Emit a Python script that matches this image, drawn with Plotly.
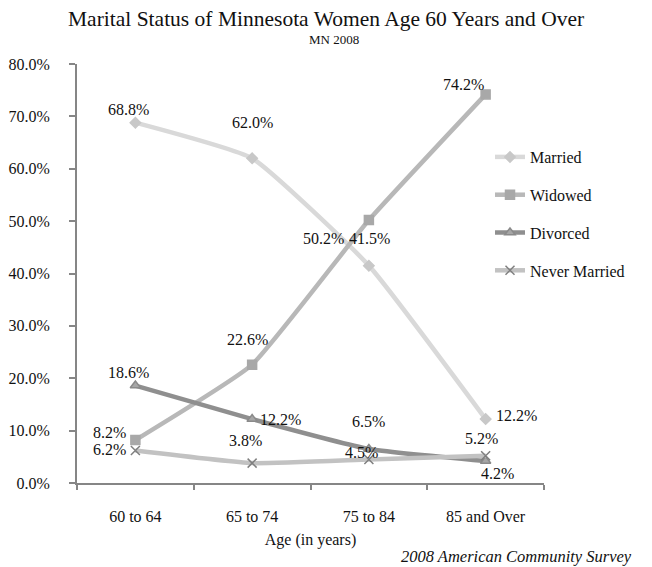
import plotly.graph_objects as go

categories = ["60 to 64", "65 to 74", "75 to 84", "85 and Over"]
married = [68.8, 62.0, 41.5, 12.2]
widowed = [8.2, 22.6, 50.2, 74.2]
divorced = [18.6, 12.2, 6.5, 4.2]
never_married = [6.2, 3.8, 4.5, 5.2]
y_ticks = [0, 10, 20, 30, 40, 50, 60, 70, 80]

FONT = "Palatino Linotype, Book Antiqua, Palatino, Liberation Serif, serif"

series = [
    dict(name="Married", values=married, color="#d9d9d9", mcolor="#c8c8c8", mline="#c8c8c8",
         symbol="diamond", msize=8,
         offsets=[(-7, 13), (0, 36), (1, 27), (31, 4)]),
    dict(name="Widowed", values=widowed, color="#b8b8b8", mcolor="#a8a8a8", mline="#a8a8a8",
         symbol="square", msize=9,
         offsets=[(-26, 8), (-5, 25), (-45, -18), (-22, 10)]),
    dict(name="Divorced", values=divorced, color="#8f8f8f", mcolor="#a6a6a6", mline="#8a8a8a",
         symbol="triangle-up", msize=9,
         offsets=[(-7, 13), (28, 0), (0, 27), (12, -12)]),
    dict(name="Never Married", values=never_married, color="#c2c2c2", mcolor="#7f7f7f", mline="#7f7f7f",
         symbol="x-thin", msize=9,
         offsets=[(-26, 1), (-7, 23), (-7, 7), (-4, 17)]),
]

# page renders with an 8px body margin; plot area target (page px): x 77-544, y 64-483
L, T = 69, 56
PW, PH = 467, 419
W, H = 652, 567


def px(fx):
    return (fx - L) / PW


def py(fy):
    return (T + PH - fy) / PH


fig = go.Figure()
annotations = []
for s in series:
    fig.add_trace(go.Scatter(
        x=categories, y=s["values"], name=s["name"], mode="lines+markers",
        legendgroup=s["name"],
        line=dict(color=s["color"], width=4.5, shape="spline", smoothing=0.4),
        marker=dict(symbol=s["symbol"], size=s["msize"], color=s["mcolor"],
                    line=dict(color=s["mline"], width=1.5)),
        hoverinfo="skip",
    ))
    for cat, v, (dx, dy) in zip(categories, s["values"], s["offsets"]):
        annotations.append(dict(
            x=cat, y=v, xref="x", yref="y", text=f"{v:.1f}%", showarrow=False,
            xshift=dx, yshift=dy, xanchor="center", yanchor="middle",
            font=dict(family=FONT, size=16, color="#111111"),
        ))

annotations += [
    dict(text="Marital Status of Minnesota Women Age 60 Years and Over",
         xref="paper", yref="paper", x=px(326 - 8), y=py(19 - 8),
         xanchor="center", yanchor="middle", showarrow=False,
         font=dict(family=FONT, size=21.5, color="#111111")),
    dict(text="MN 2008",
         xref="paper", yref="paper", x=px(334 - 8), y=py(40 - 8),
         xanchor="center", yanchor="middle", showarrow=False,
         font=dict(family=FONT, size=13, color="#111111")),
    dict(text="<i>2008 American Community Survey</i>",
         xref="paper", yref="paper", x=px(634 - 8), y=py(556 - 8),
         xanchor="right", yanchor="middle", showarrow=False,
         font=dict(family=FONT, size=16.5, color="#111111")),
]

fig.update_layout(
    width=W, height=H,
    margin=dict(l=L, r=W - L - PW, t=T, b=H - T - PH, autoexpand=False),
    paper_bgcolor="white", plot_bgcolor="white",
    font=dict(family=FONT, size=16, color="#111111"),
    xaxis=dict(
        type="category", range=[-0.5, 3.5], showgrid=False, automargin=False,
        showline=True, linecolor="#868686", linewidth=2,
        ticks="outside", ticklen=5, tickcolor="#868686", tickwidth=1.5,
        tickson="boundaries", tickfont=dict(family=FONT, size=16),
        ticklabelstandoff=18,
        title=dict(text="Age (in years)", font=dict(family=FONT, size=16), standoff=10),
    ),
    yaxis=dict(
        range=[0, 80], tickvals=y_ticks, ticktext=[f"{t:.1f}%" for t in y_ticks],
        showgrid=False, zeroline=False, automargin=False,
        showline=True, linecolor="#868686", linewidth=2,
        ticks="outside", ticklen=6, tickcolor="#868686", tickwidth=1.5,
        tickfont=dict(family=FONT, size=16), ticklabelstandoff=16,
    ),
    legend=dict(x=px(490 - 8), y=py(140 - 8), xanchor="left", yanchor="top",
                font=dict(family=FONT, size=16), tracegroupgap=14,
                bgcolor="rgba(0,0,0,0)"),
    annotations=annotations,
    showlegend=True,
)

fig.write_html("out.html")
